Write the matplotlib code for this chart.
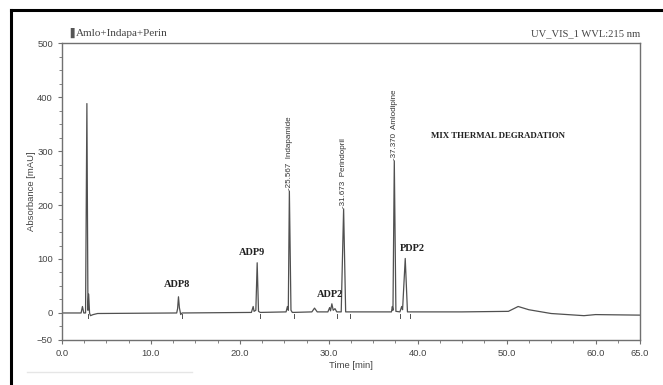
import numpy as np
import matplotlib
matplotlib.use("Agg")
import matplotlib.pyplot as plt
from matplotlib.lines import Line2D

# Chromatogram trace (time [min], absorbance [mAU])
time_min = [0.0, 2.15, 2.3, 2.45, 2.65, 2.8, 2.92, 3.0, 3.1, 3.2, 3.5, 4.0,
            12.9, 13.0, 13.1, 13.2, 13.35, 13.5, 21.3, 21.5, 21.6, 21.8, 21.95,
            22.1, 22.3, 25.2, 25.35, 25.45, 25.57, 25.75, 25.9, 28.1, 28.4, 28.7,
            29.9, 30.1, 30.2, 30.35, 30.5, 30.7, 30.9, 31.4, 31.67, 31.9, 37.05,
            37.15, 37.22, 37.37, 37.55, 38.0, 38.2, 38.3, 38.6, 38.85, 45.0,
            50.2, 51.3, 52.5, 55.0, 58.7, 60.0, 65.0]
absorb = [0, 0, 12, 0, 0, 388, 5, 35, 0, -5, -3, -1,
          0, 8, 30, 10, -3, 0, 1, 12, 3, 5, 93,
          3, 1, 2, 12, 5, 226, 5, 1, 2, 9, 2,
          2, 10, 4, 17, 5, 8, 2, 2, 193, 2, 2,
          12, 5, 282, 3, 2, 12, 6, 101, 2, 2,
          3, 12, 6, -1, -5, -3, -4]

# integration markers below the baseline
marker_times = [2.9, 13.45, 22.25, 26.1, 30.9, 32.4, 38.0, 39.1]

# named peaks: retention time, apex height, name
named_rt = [25.567, 31.673, 37.370]
named_h = [226, 193, 282]
named_names = ["Indapamide", "Perindopril", "Amlodipine"]

# degradation product labels
dp_names = ["ADP8", "ADP9", "ADP2", "PDP2"]
dp_x = [12.9, 21.4, 30.1, 39.4]
dp_y = [52, 112, 35, 120]

fig = plt.figure(figsize=(6.63, 3.85), dpi=100)
ax = fig.add_axes([0.0935, 0.117, 0.8718, 0.771])

ax.plot(time_min, absorb, color="#505050", lw=0.9)
for t in marker_times:
    ax.plot([t, t], [-1, -9], color="#505050", lw=0.7)

for t, h, n in zip(named_rt, named_h, named_names):
    ax.text(t, h + 2, "-%.3f  %s" % (t, n), rotation=90, ha="center", va="bottom",
            fontsize=5.8, color="#333333", family="Liberation Sans")

for n, x, y in zip(dp_names, dp_x, dp_y):
    ax.text(x, y, n, ha="center", va="center", fontsize=7.5, fontweight="bold",
            family="Liberation Serif", color="#222222")

ax.text(49, 328, "MIX THERMAL DEGRADATION", ha="center", va="center", fontsize=6.4,
        fontweight="bold", family="Liberation Serif", color="#222222")

ax.set_xlim(0, 65)
ax.set_ylim(-50, 500)
xt = [0, 10, 20, 30, 40, 50, 60, 65]
ax.set_xticks(xt)
ax.set_xticklabels(["%.1f" % v for v in xt])
ax.set_xticks(np.arange(0, 65, 2.5), minor=True)
yt = [-50, 0, 100, 200, 300, 400, 500]
ax.set_yticks(yt)
ax.set_yticks(np.arange(-50, 501, 25), minor=True)

for s in ax.spines.values():
    s.set_color("#707070")
    s.set_linewidth(1.0)
ax.tick_params(which="both", direction="out", color="#707070", labelsize=6.8,
               labelcolor="#444444")
ax.tick_params(which="major", length=3, width=0.8)
ax.tick_params(which="minor", length=2, width=0.6)
for lab in ax.get_xticklabels() + ax.get_yticklabels():
    lab.set_family("Liberation Sans")

ax.set_xlabel("Time [min]", fontsize=6.8, color="#444444", family="Liberation Sans",
              labelpad=2)
ax.set_ylabel("Absorbance [mAU]", fontsize=6.8, color="#444444",
              family="Liberation Sans", labelpad=1)

fig.text(0.0995, 0.901, "\u2590", fontsize=7, color="#555555", va="bottom")
fig.text(0.1146, 0.901, "Amlo+Indapa+Perin", fontsize=8, family="Liberation Serif",
         color="#444444", va="bottom")
fig.text(0.965, 0.901, "UV_VIS_1 WVL:215 nm", fontsize=7.6, family="Liberation Serif",
         color="#444444", va="bottom", ha="right")

# outer black frame (top and left only)
fig.add_artist(Line2D([0.016, 1.0], [0.973, 0.973], color="black", lw=2.2,
                      transform=fig.transFigure))
fig.add_artist(Line2D([0.016, 0.016], [0.0, 0.973], color="black", lw=2.2,
                      transform=fig.transFigure))
fig.add_artist(Line2D([0.04, 0.29], [0.035, 0.035], color="#e6e6e6", lw=1.0,
                      transform=fig.transFigure))

fig.savefig("out.png", dpi=100)
